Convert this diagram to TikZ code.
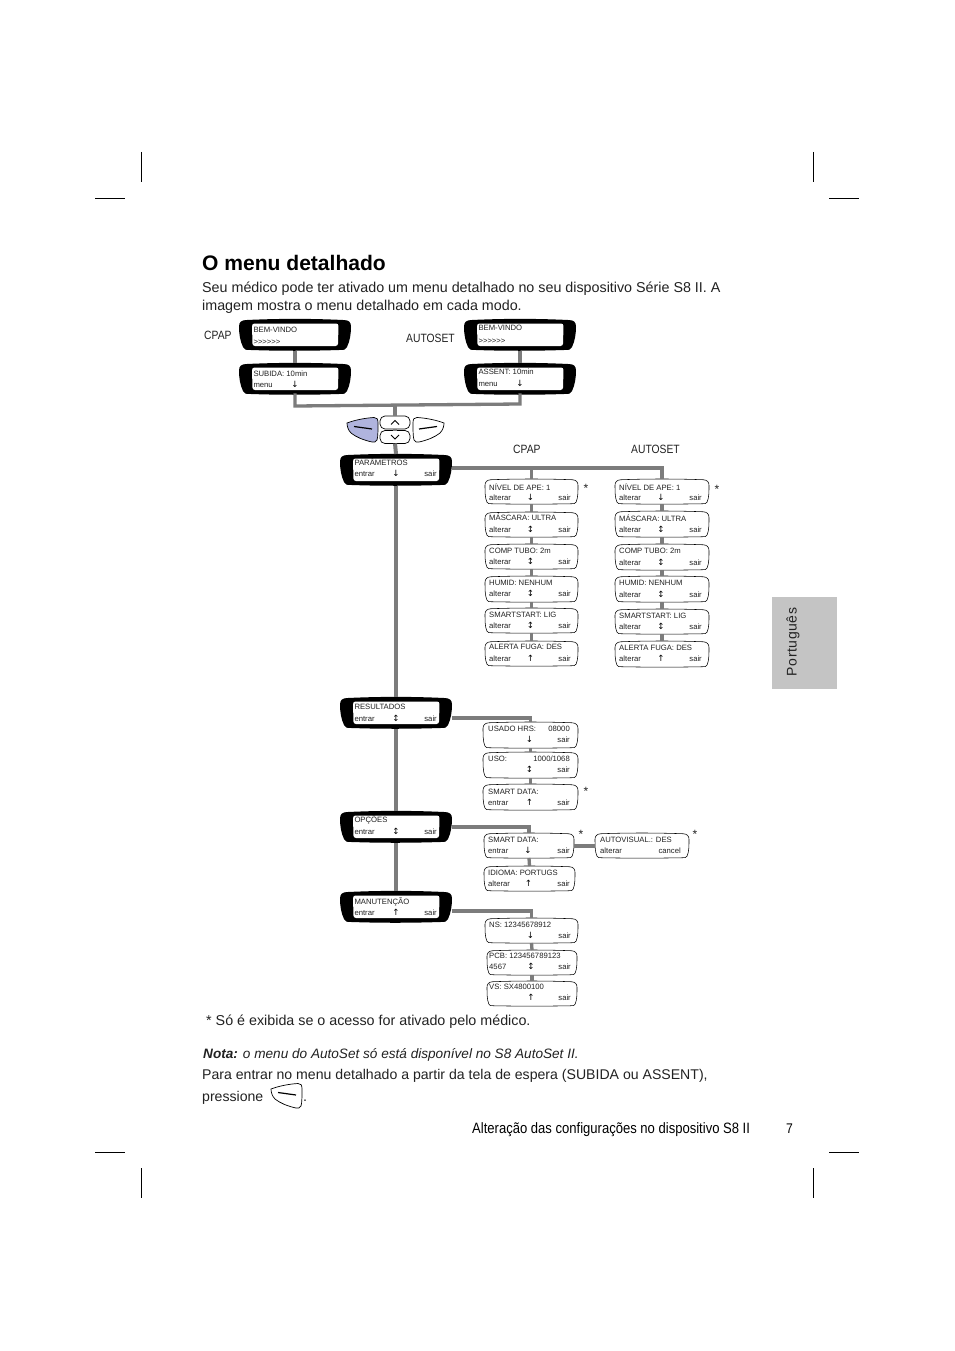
\documentclass[tikz,border=0pt]{standalone}
\usepackage{fontspec}
\setmainfont{Liberation Sans}
\newfontfamily\glyphf{DejaVu Sans}
\newfontfamily\narrowf[FakeStretch=0.87]{Liberation Sans}
\newfontfamily\labf[FakeStretch=0.86]{Liberation Sans}
\newfontfamily\tabf[LetterSpace=4]{Liberation Sans}
\newcommand\ad{{\glyphf ↓}}
\newcommand\au{{\glyphf ↑}}
\newcommand\ab{{\glyphf ↕}}
\definecolor{conn}{HTML}{7C7C7C}
\definecolor{ink}{HTML}{222222}
\definecolor{tabgray}{HTML}{C4C4C4}
\definecolor{btnblue}{HTML}{B0B4DE}
\tikzset{
  small/.style={font=\fontsize{7.7}{9}\selectfont,text=ink,inner sep=0pt},
  smalll/.style={small,anchor=base west},
  smallr/.style={small,anchor=base east},
  arrowg/.style={font=\fontsize{8.6}{9}\selectfont,text=black,inner sep=0pt,anchor=center},
  body/.style={font=\fontsize{14.3}{16}\selectfont,text=ink,inner sep=0pt,anchor=base west},
  lab/.style={font=\fontsize{12}{14}\labf\selectfont,text=ink,inner sep=0pt,anchor=base west},
  crop/.style={line width=0.7pt,black},
  connector/.style={conn,line width=3.3pt},
  trunk/.style={conn,line width=4pt},
  outline/.style={draw=black,line width=0.55pt,fill=white},
  anchorbox/.style={inner sep=0pt,outer sep=0pt,draw=none,fill=none},
  updown/.style={anchorbox,minimum width=30pt,minimum height=13pt,draw=black,line width=0.7pt,rounded corners=5pt,fill=white},
}
% dark screen: name, x, y, baseline1, baseline2, line1, left, arrow
\newcommand\dscr[8]{%
  \begin{scope}[shift={(#2,#3)}]
    \fill[black] (8,1) .. controls (40,-0.5) and (72,-0.5) .. (104,1)
      .. controls (110,1) and (112,3) .. (112,8)
      .. controls (112,14) and (111,22) .. (108,28)
      .. controls (107,31) and (105,31) .. (100,31)
      .. controls (70,32) and (40,32) .. (12,31)
      .. controls (7,31) and (5,31) .. (4,28)
      .. controls (1,22) and (0,14) .. (0,8)
      .. controls (0,3) and (2,1) .. (8,1) -- cycle;
    \fill[white,rounded corners=2.5pt] (13,4.5) -- (99.5,4.5) -- (99,27) -- (13.5,27) -- cycle;
    \node[anchorbox,minimum width=112pt,minimum height=32pt] (#1) at (56,16) {};
  \end{scope}
  \node[smalll] (#1-a) at ({#2+14.3},#4) {#6};
  \node[smalll] (#1-b) at ({#2+14.3},#5) {#7};
  \node[arrowg] (#1-c) at ({#2+56},{#5-2.5}) {#8};
}
% light box: name, x0, y0, x1, y1, line1, left, arrow, right
\def\oa{9}\def\ob{20}\def\tx{4}\def\rr{7}
\newcommand\lbx[9]{%
  \pgfmathsetmacro\bw{#4-#2}\pgfmathsetmacro\bh{#5-#3}
  \begin{scope}[shift={(#2,#3)},x=\bw pt,y=-\bh pt]
    \path[outline] (.06,.03) .. controls (.35,-.01) and (.65,-.01) .. (.94,.03)
      .. controls (.98,.04) and (1,.12) .. (1,.25)
      .. controls (1,.5) and (1,.75) .. (.98,.92)
      .. controls (.97,.98) and (.96,1) .. (.93,.99)
      .. controls (.65,1.01) and (.35,1.01) .. (.07,.99)
      .. controls (.04,1) and (.03,.98) .. (.02,.92)
      .. controls (0,.75) and (0,.5) .. (0,.25)
      .. controls (0,.12) and (.02,.04) .. (.06,.03) -- cycle;
  \end{scope}
  \node[anchorbox,minimum width=\bw pt,minimum height=\bh pt] (#1) at ({(#2+#4)/2},{(#3+#5)/2}) {};
  \node[smalll] (#1-a) at ({#2+\tx},{#3+\oa}) {#6};
  \node[smalll] (#1-b) at ({#2+\tx},{#3+\ob}) {#7};
  \node[arrowg] (#1-c) at ({(#2+#4)/2-1},{#3+\ob-2.5}) {#8};
  \node[smallr] (#1-d) at ({#4-\rr},{#3+\ob}) {#9};
}
% soft keys: x, y, fill
\newcommand\softl[3]{%
  \begin{scope}[shift={(#1,#2)}]
    \path[draw=black,line width=0.7pt,fill=#3] (0,6) .. controls (8,3) and (18,1) .. (27,0.5)
      .. controls (30,0.5) and (31,2) .. (31,6)
      .. controls (31,13) and (31,20) .. (30,23)
      .. controls (29,25) and (27,25.5) .. (25,25)
      .. controls (16,23) and (9,20) .. (4,16)
      .. controls (1,13) and (0,9) .. (0,6) -- cycle;
    \draw[black,line width=1.2pt] (7,9.5) -- (25,12);
  \end{scope}
}
\newcommand\softr[3]{%
  \begin{scope}[shift={(#1,#2)}]
    \path[draw=black,line width=0.7pt,fill=#3] (31,6) .. controls (23,3) and (13,1) .. (4,0.5)
      .. controls (1,0.5) and (0,2) .. (0,6)
      .. controls (0,13) and (0,20) .. (1,23)
      .. controls (2,25) and (4,25.5) .. (6,25)
      .. controls (15,23) and (22,20) .. (27,16)
      .. controls (30,13) and (31,9) .. (31,6) -- cycle;
    \draw[black,line width=1.2pt] (6,12) -- (24,9.5);
  \end{scope}
}
\begin{document}
\begin{tikzpicture}[x=1pt,y=-1pt]
\useasboundingbox (0,0) rectangle (954,1351);
\fill[white] (0,0) rectangle (954,1351);

% crop marks
\foreach \a/\b/\c/\d in {95/198/125/198,141/152/141/182,829/198/859/198,813/152/813/182,
  95/1152/125/1152,141/1168/141/1198,829/1152/859/1152,813/1168/813/1198}
  \draw[crop] (\a,\b) -- (\c,\d);

% side tab
\fill[tabgray] (772,597) rectangle (837,689);
\node[font=\fontsize{14}{16}\tabf\selectfont,text=ink,inner sep=0pt,rotate=90] (tabtext) at (793,642) {Português};

% title and text
\node[font=\fontsize{21.05}{24}\bfseries\selectfont,text=black,inner sep=0pt,anchor=base west] (title) at (202,270) {O menu detalhado};
\node[body] (p1) at (202,292) {Seu médico pode ter ativado um menu detalhado no seu dispositivo Série S8 II. A};
\node[body] (p2) at (202,310) {imagem mostra o menu detalhado em cada modo.};
\node[lab] (lcpap) at (204,339) {CPAP};
\node[lab] (lauto) at (406,342) {AUTOSET};
\node[lab] (lcpap2) at (513,453) {CPAP};
\node[lab] (lauto2) at (631,453) {AUTOSET};

% dark screens
\dscr{bem1}{239}{319}{332}{344}{BEM-VINDO}{>{}>{}>{}>{}>{}>}{}
\dscr{subida}{239}{363}{376}{387}{SUBIDA: 10min}{menu}{\ad}
\dscr{bem2}{464}{319}{330}{343}{BEM-VINDO}{>{}>{}>{}>{}>{}>}{}
\dscr{assent}{464}{363}{374}{386}{ASSENT: 10min}{menu}{\ad}
\dscr{param}{340}{454}{465}{476}{PARÂMETROS}{entrar}{\ad}
\dscr{result}{340}{697}{709}{721}{RESULTADOS}{entrar}{\ab}
\dscr{opcoes}{340}{811}{822}{834}{OPÇÕES}{entrar}{\ab}
\dscr{manut}{340}{891}{904}{915}{MANUTENÇÃO}{entrar}{\au}
\node[smallr] (param-d) at (437,476) {sair};
\node[smallr] (result-d) at (437,721) {sair};
\node[smallr] (opcoes-d) at (437,834) {sair};
\node[smallr] (manut-d) at (437,915) {sair};

% soft keys
\softl{347}{417}{btnblue}
\softr{413}{417}{white}
\node[updown] (bup) at (395,422.5) {};
\node[updown] (bdown) at (395,437) {};
\draw[black,line width=0.8pt] (391,424.5) -- (395,420.5) -- (399,424.5);
\draw[black,line width=0.8pt] (391,435) -- (395,439) -- (399,435);

% CPAP column
\def\oa{11}\def\ob{21}
\lbx{c1}{485}{479}{578}{504}{NÍVEL DE APE: 1}{alterar}{\ad}{sair}
\def\oa{8.5}\def\ob{20}
\lbx{c2}{485}{512}{578}{537}{MÁSCARA: ULTRA}{alterar}{\ab}{sair}
\def\oa{9}
\lbx{c3}{485}{544}{578}{569}{COMP TUBO: 2m}{alterar}{\ab}{sair}
\lbx{c4}{485}{576}{578}{602}{HUMID: NENHUM}{alterar}{\ab}{sair}
\lbx{c5}{485}{608}{578}{633}{SMARTSTART: LIG}{alterar}{\ab}{sair}
\def\oa{8}
\lbx{c6}{485}{641}{578}{666}{ALERTA FUGA: DES}{alterar}{\au}{sair}
% AutoSet column
\def\oa{11}\def\ob{21}
\lbx{a1}{615}{479}{709}{504}{NÍVEL DE APE: 1}{alterar}{\ad}{sair}
\def\oa{10}\def\ob{21}
\lbx{a2}{615}{511}{709}{537}{MÁSCARA: ULTRA}{alterar}{\ab}{sair}
\def\oa{9}\def\ob{21}
\lbx{a3}{615}{544}{709}{570}{COMP TUBO: 2m}{alterar}{\ab}{sair}
\lbx{a4}{615}{576}{709}{602}{HUMID: NENHUM}{alterar}{\ab}{sair}
\def\ob{20}
\lbx{a5}{615}{609}{709}{634}{SMARTSTART: LIG}{alterar}{\ab}{sair}
\def\oa{9}
\lbx{a6}{615}{641}{709}{667}{ALERTA FUGA: DES}{alterar}{\au}{sair}
% Resultados
\def\oa{9}\def\ob{20}\def\tx{5}\def\rr{8}
\lbx{r1}{483}{722}{578}{748}{USADO HRS:}{}{\ad}{sair}
\lbx{r2}{483}{752}{578}{778}{USO:}{}{\ab}{sair}
\def\oa{10}\def\ob{21}
\lbx{r3}{483}{784}{578}{810}{SMART DATA:}{entrar}{\au}{sair}
\node[smallr] (r1-e) at (570,731) {08000};
\node[smallr] (r2-e) at (570,761) {1000/1068};
% Opcoes
\def\oa{9}\def\ob{20}\def\tx{4}\def\rr{4}
\lbx{o1}{484}{833}{574}{858}{SMART DATA:}{entrar}{\ad}{sair}
\def\rr{5}
\lbx{o2}{484}{866}{575}{891}{IDIOMA: PORTUGS}{alterar}{\au}{sair}
\def\tx{5}\def\rr{8}
\lbx{o3}{595}{833}{689}{858}{AUTOVISUAL.: DES}{alterar}{}{cancel}
% Manutencao
\def\tx{4}\def\rr{7}
\lbx{m1}{485}{918}{578}{943}{NS: 12345678912}{}{\ad}{sair}
\def\oa{8}\def\ob{19}\def\tx{2}\def\rr{6}
\lbx{m2}{487}{950}{577}{975}{PCB: 123456789123}{4567}{\ab}{sair}
\lbx{m3}{487}{981}{577}{1006}{VS: SX4800100}{}{\au}{sair}

% asterisks
\foreach \n/\x/\y in {s1/586/487,s2/717/488,s3/586/790,s4/581/833,s5/695/833}
  \node[font=\fontsize{12}{12}\selectfont,text=ink,inner sep=0pt] (\n) at (\x,{\y+1.5}) {*};

% connector points
\coordinate (j1) at (subida.south |- 0,406);
\coordinate (j2) at (assent.south |- 0,404);
\coordinate (jm) at (395,405);
\coordinate (pe) at (param.east |- 0,468);
\coordinate (pd1) at (c1.north |- 0,468);
\coordinate (pd2) at (a1.north |- 0,468);
\coordinate (re) at (result.east |- 0,718);
\coordinate (rd) at (r1.north |- 0,718);
\coordinate (oe) at (opcoes.east |- 0,827);
\coordinate (od) at (o1.north |- 0,827);
\coordinate (me) at (manut.east |- 0,911);
\coordinate (md) at (m1.north |- 0,911);

% connectors
\draw[connector] (bem1.south) -- (subida.north);
\draw[connector] (bem2.south) -- (assent.north);
\draw[connector,line cap=rect] (subida.south) -- (j1) -- (j2) -- (assent.south);
\draw[trunk] (jm) -- (bup.north);
\draw[trunk] (bup.south) -- (bdown.north);
\draw[trunk] (bdown.south) -- (param.north);
\draw[trunk] (param.south) -- (result.north);
\draw[trunk] (result.south) -- (opcoes.north);
\draw[trunk] (opcoes.south) -- (manut.north);
\draw[connector] (pe) -- (pd2) -- (a1.north);
\draw[connector] (pd1) -- (c1.north);
\foreach \p/\q in {c1/c2,c2/c3,c3/c4,c4/c5,c5/c6,a1/a2,a2/a3,a3/a4,a4/a5,a5/a6,r1/r2,r2/r3,o1/o2,m1/m2,m2/m3}
  \draw[connector] (\p.south) -- (\q.north);
\draw[connector] (re) -- (rd) -- (r1.north);
\draw[connector] (oe) -- (od) -- (o1.north);
\draw[connector] (me) -- (md) -- (m1.north);
\draw[connector,line width=4pt] (o1.east) -- (o3.west);

% lower text
\node[body] (foot1) at (206,1025) {* Só é exibida se o acesso for ativado pelo médico.};
\node[body] (nota) at (203,1058) {\fontsize{13.6}{15}\selectfont\bfseries\itshape Nota: \mdseries o menu do AutoSet só está disponível no S8 AutoSet II.};
\node[body] (p3) at (202,1079) {\fontsize{14.1}{16}\selectfont Para entrar no menu detalhado a partir da tela de espera (SUBIDA ou ASSENT),};
\node[body] (p4) at (202,1101) {\fontsize{14.1}{16}\selectfont pressione};
\softl{271}{1083}{white}
\node[body] (p5) at (303,1101) {.};
\node[font=\fontsize{15}{16}\narrowf\selectfont,text=black,inner sep=0pt,anchor=base west] (footer) at (472,1133) {Alteração das configurações no dispositivo S8 II};
\node[font=\fontsize{14}{16}\narrowf\selectfont,text=black,inner sep=0pt,anchor=base west] (pageno) at (786,1133) {7};
\end{tikzpicture}
\end{document}
